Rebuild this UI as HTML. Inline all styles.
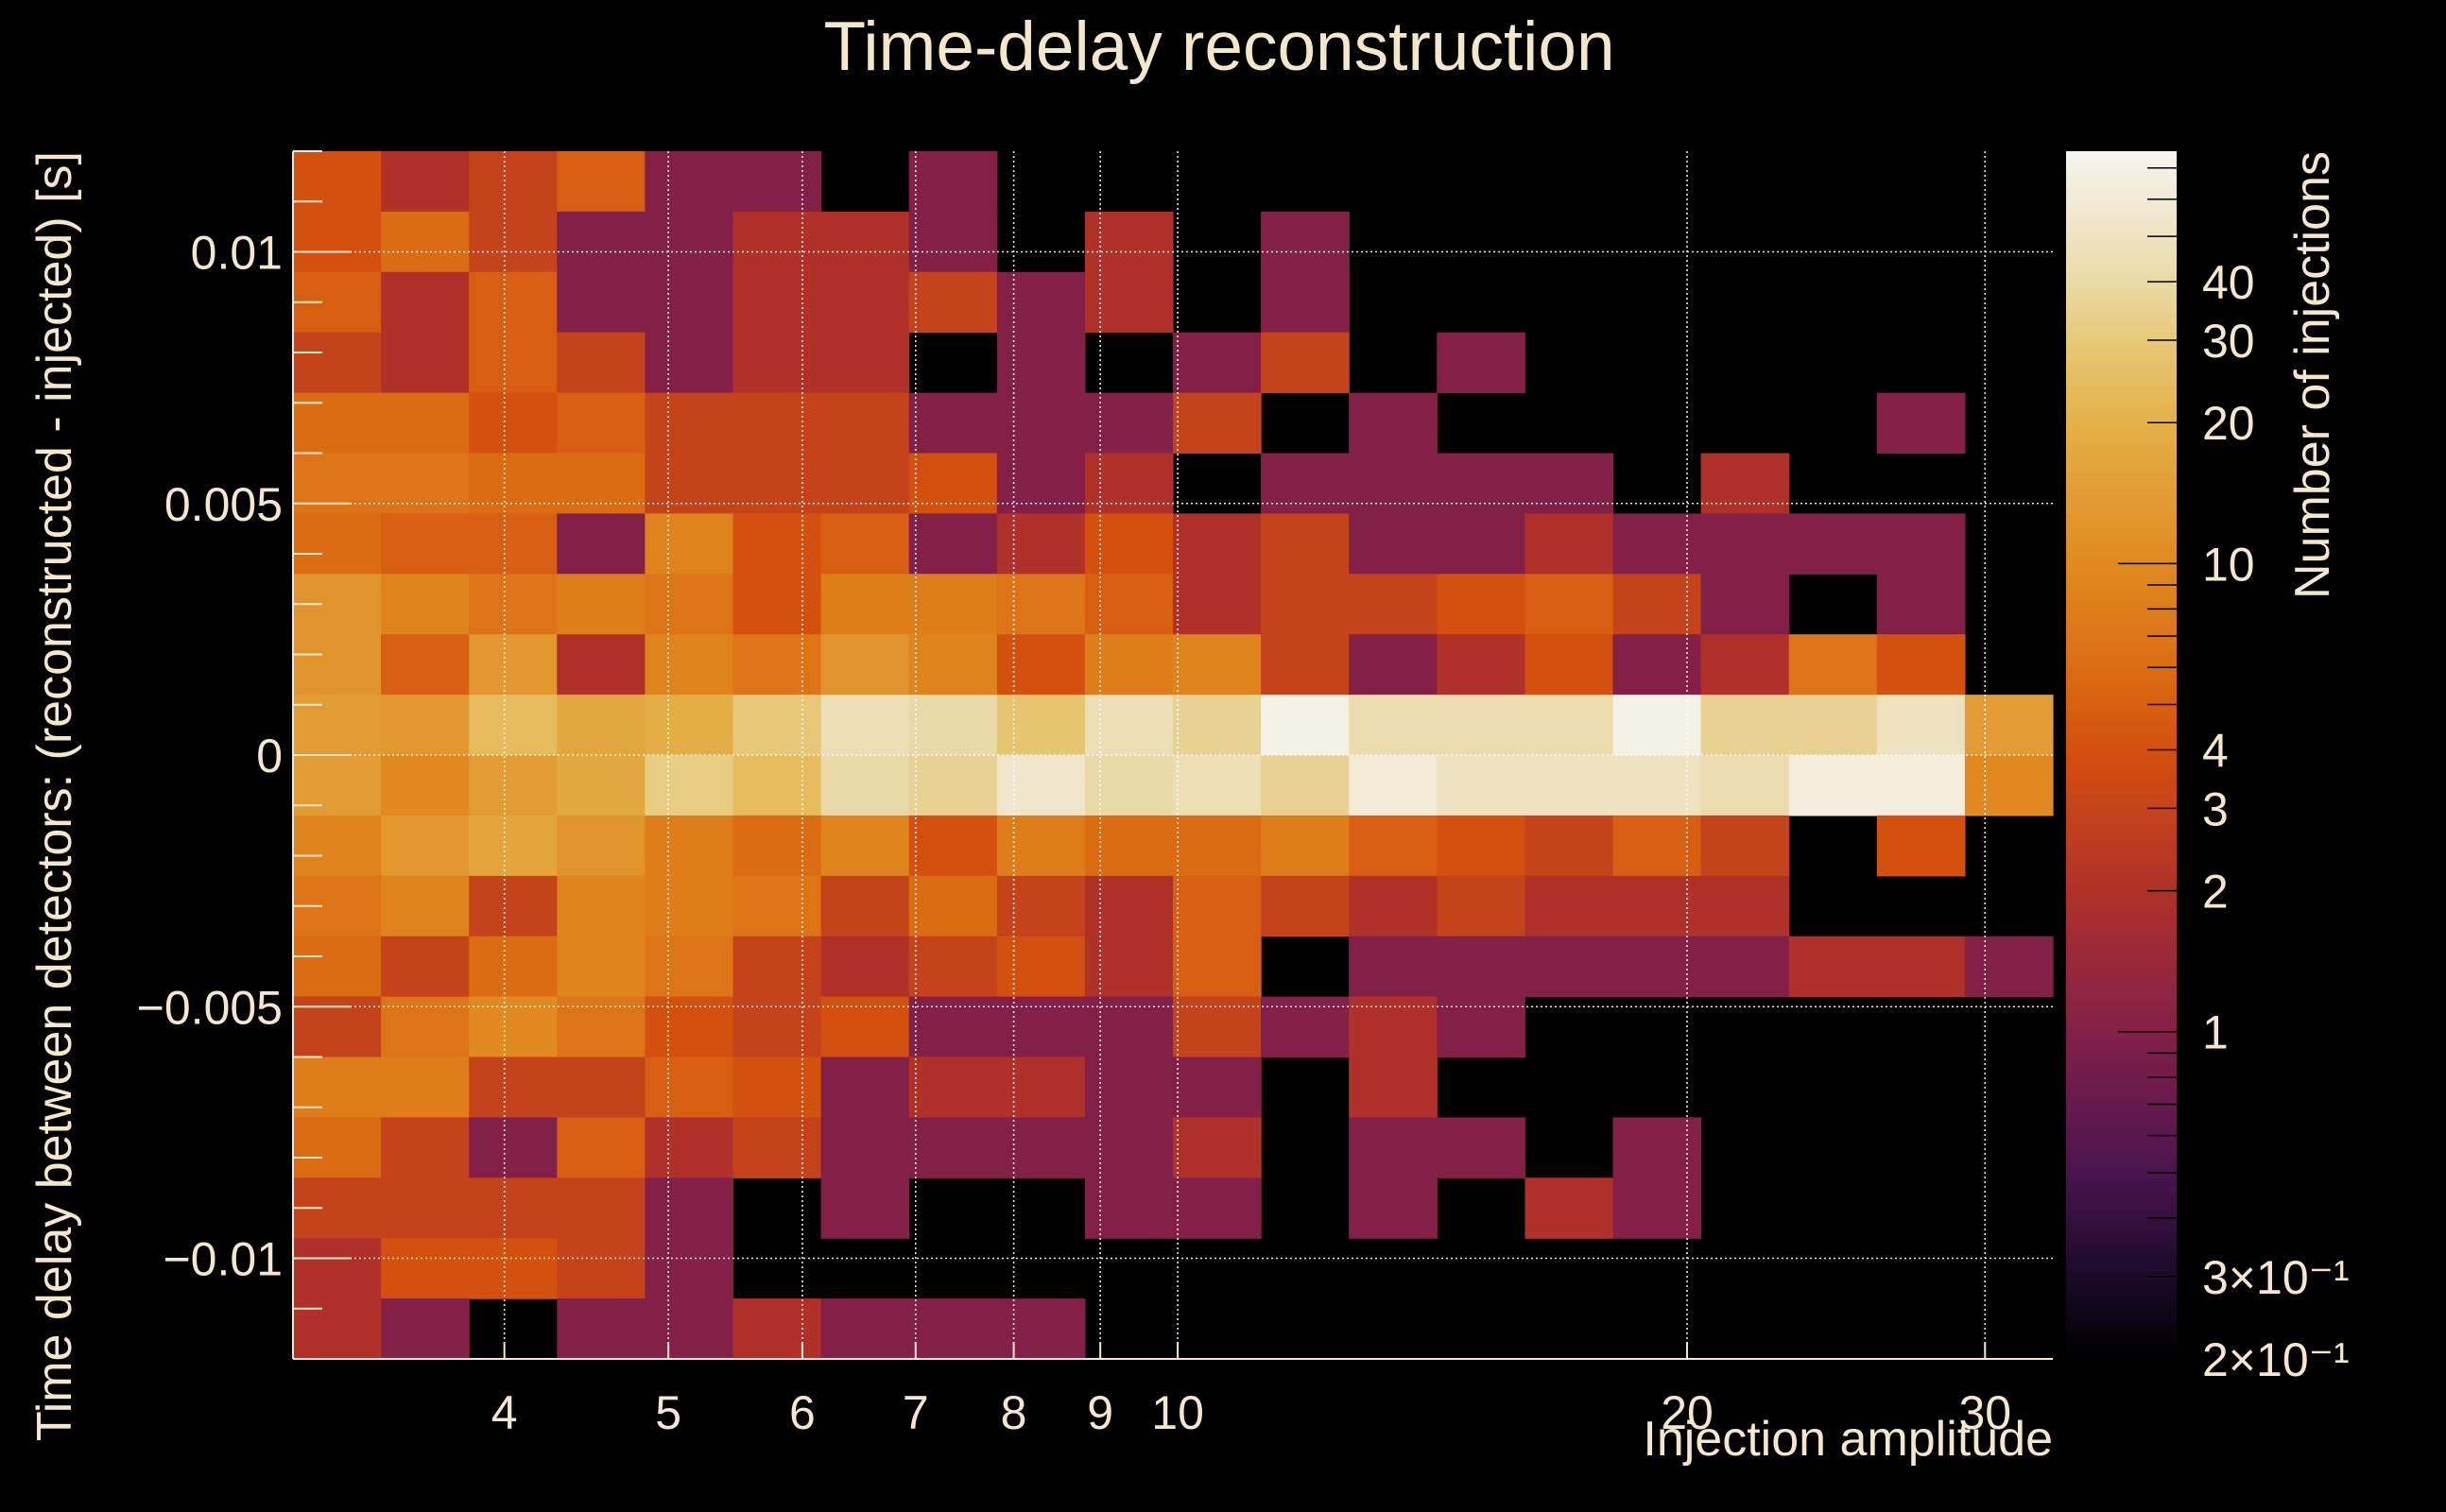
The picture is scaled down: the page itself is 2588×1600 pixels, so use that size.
<!DOCTYPE html>
<html><head><meta charset="utf-8"><style>
html,body{margin:0;padding:0;background:#000;}
svg{display:block;}
text{fill:#f3e8cc;font-family:"Liberation Sans",sans-serif;}
.n{font-family:"Liberation Sans Narrow","Liberation Sans",sans-serif;}
</style></head><body>
<svg id="c" width="2588" height="1600" viewBox="0 0 2588 1600">
<rect x="0" y="0" width="2588" height="1600" fill="#000"/>
<text x="1290" y="74" font-size="73" text-anchor="middle">Time-delay reconstruction</text>
<g id="cells"></g>
<g id="grid"></g>
<g id="axes"></g>
<g id="cbar"></g>
<text class="n" x="2172" y="1540" font-size="52" text-anchor="end">Injection amplitude</text>
<text class="n" transform="translate(75,160) rotate(-90)" font-size="52" text-anchor="end">Time delay between detectors: (reconstructed - injected) [s]</text>
<text class="n" transform="translate(2464,160) rotate(-90)" font-size="52" text-anchor="end">Number of injections</text>
</svg>
<script>
// binning
const xMin = 3, xMax = 32.9, nX = 20;
const yMin = -0.012, yMax = 0.012, nY = 20;
// counts: rows from top (y=0.012) to bottom; columns low to high amplitude
const row0  = [4,2,3,5,1,1,0,1,0,0, 0,0,0,0,0,0,0,0,0,0];
const row1  = [4,6,3,1,1,2,2,1,0,2, 0,1,0,0,0,0,0,0,0,0];
const row2  = [5,2,5,1,1,2,2,3,1,2, 0,1,0,0,0,0,0,0,0,0];
const row3  = [3,2,5,3,1,2,2,0,1,0, 1,3,0,1,0,0,0,0,0,0];
const row4  = [6,6,4,5,3,3,3,1,1,1, 3,0,1,0,0,0,0,0,1,0];
const row5  = [7,7,6,6,3,3,3,4,1,2, 0,1,1,1,1,0,2,0,0,0];
const row6  = [6,5,5,1,9,4,5,1,2,4, 2,3,1,1,2,1,1,1,1,0];
const row7  = [12,9,7,8,7,4,8,8,7,5, 2,3,3,4,5,3,1,0,1,0];
const row8  = [12,5,13,2,9,7,12,9,4,8, 9,3,1,2,4,1,2,7,4,0];
const row9  = [14,13,24,17,19,30,45,40,28,45, 35,70,42,42,42,70,35,35,50,14];
const row10 = [14,10,14,17,32,24,40,35,55,40, 45,35,60,50,50,50,42,65,65,10];
const row11 = [9,13,16,12,8,6,9,4,8,6, 6,8,5,4,3,5,3,0,4,0];
const row12 = [7,9,3,9,8,7,3,6,3,2, 5,3,2,3,2,2,2,0,0,0];
const row13 = [6,3,6,9,7,3,2,3,4,2, 5,0,1,1,1,1,1,2,2,1];
const row14 = [3,7,10,7,4,3,4,1,1,1, 3,1,2,1,0,0,0,0,0,0];
const row15 = [8,8,3,3,5,4,1,2,2,1, 1,0,2,0,0,0,0,0,0,0];
const row16 = [6,3,1,5,2,3,1,1,1,1, 2,0,1,1,0,1,0,0,0,0];
const row17 = [3,3,3,3,1,0,1,0,0,1, 1,0,1,0,2,1,0,0,0,0];
const row18 = [2,4,4,3,1,0,0,0,0,0, 0,0,0,0,0,0,0,0,0,0];
const row19 = [2,1,0,1,1,2,1,1,1,0, 0,0,0,0,0,0,0,0,0,0];
const counts = [row0,row1,row2,row3,row4,row5,row6,row7,row8,row9,row10,row11,row12,row13,row14,row15,row16,row17,row18,row19];
const xTicks = [4,5,6,7,8,9,10,20,30];
const xTickLabels = ["4","5","6","7","8","9","10","20","30"];
const yTicks = [-0.01,-0.005,0,0.005,0.01];
const yTickLabels = ["\u22120.01","\u22120.005","0","0.005","0.01"];
const zMin = 0.2, zMax = 76;
const zTicks = [40,30,20,10,4,3,2,1,0.3,0.2];
const zTickLabels = ["40","30","20","10","4","3","2","1","3\u00d710\u207b\u00b9","2\u00d710\u207b\u00b9"];

const PX0=310, PX1=2172, PY0=160, PY1=1438;
const CBX0=2186, CBX1=2303;
const NS="http://www.w3.org/2000/svg";
function xs(v){return PX0+(Math.log10(v)-Math.log10(xMin))/(Math.log10(xMax)-Math.log10(xMin))*(PX1-PX0);}
function ys(v){return PY1-(v-yMin)/(yMax-yMin)*(PY1-PY0);}
function zs(v){return PY1-(Math.log10(v)-Math.log10(zMin))/(Math.log10(zMax)-Math.log10(zMin))*(PY1-PY0);}
const stops=[[0.2,[0,0,0]],[0.3,[26,10,40]],[0.5,[74,20,80]],[1,[131,32,72]],[2,[176,48,42]],[3,[197,67,26]],[4,[212,80,15]],[6,[220,108,18]],[10,[224,138,32]],[20,[228,176,72]],[30,[230,200,120]],[40,[234,217,168]],[76,[246,244,240]]];
function col(z){
  const l=Math.log10(Math.max(zMin,Math.min(zMax,z)));
  for(let i=0;i<stops.length-1;i++){
    const a=Math.log10(stops[i][0]),b=Math.log10(stops[i+1][0]);
    if(l<=b){const t=(l-a)/(b-a);const c=stops[i][1].map((v,k)=>Math.round(v+(stops[i+1][1][k]-v)*t));return `rgb(${c})`;}
  }
  return 'rgb(246,244,240)';
}
function mk(tag,attrs,parent){const e=document.createElementNS(NS,tag);for(const k in attrs)e.setAttribute(k,attrs[k]);parent.appendChild(e);return e;}
const gc=document.getElementById('cells'),gg=document.getElementById('grid'),ga=document.getElementById('axes'),gb=document.getElementById('cbar');
const lx0=Math.log10(xMin),lx1=Math.log10(xMax);
for(let r=0;r<nY;r++){
  const yTop=yMax-r*(yMax-yMin)/nY, yBot=yTop-(yMax-yMin)/nY;
  for(let c=0;c<nX;c++){
    const v=counts[r][c]; if(!v)continue;
    const xa=Math.pow(10,lx0+c*(lx1-lx0)/nX), xb=Math.pow(10,lx0+(c+1)*(lx1-lx0)/nX);
    const x1=xs(xa),x2=xs(xb),y1=ys(yTop),y2=ys(yBot);
    const e=mk('rect',{x:x1.toFixed(2),y:y1.toFixed(2),width:(x2-x1+0.6).toFixed(2),height:(y2-y1+0.6).toFixed(2),fill:col(v)},gc);
    
    
  }
}
// grid
xTicks.forEach(t=>{const e=mk('line',{x1:xs(t),x2:xs(t),y1:PY0,y2:PY1,stroke:'#fff','stroke-width':1.6,'stroke-dasharray':'2 3',opacity:0.9},gg);

});
yTicks.forEach(t=>{const e=mk('line',{x1:PX0,x2:PX1,y1:ys(t),y2:ys(t),stroke:'#fff','stroke-width':1.6,'stroke-dasharray':'2 3',opacity:0.9},gg);

});
// axes
let e=mk('line',{x1:PX0,x2:PX1,y1:PY1,y2:PY1,stroke:'#f3e8cc','stroke-width':2},ga);


e=mk('line',{x1:PX0,x2:PX0,y1:PY0,y2:PY1,stroke:'#f3e8cc','stroke-width':2},ga);


for(let k=-12;k<=12;k++){const v=k*0.001;const major=(k%5===0);
  e=mk('line',{x1:PX0,x2:PX0+(major?62:31),y1:ys(v),y2:ys(v),stroke:'#f3e8cc','stroke-width':2},ga);
  
  }
xTicks.forEach((t,i)=>{e=mk('line',{x1:xs(t),x2:xs(t),y1:PY1,y2:PY1-18,stroke:'#f3e8cc','stroke-width':2},ga);
  
  
  const tx=mk('text',{x:xs(t),y:1512,'font-size':50,'text-anchor':'middle',class:'n'},ga);tx.textContent=xTickLabels[i];
  
  });
yTicks.forEach((t,i)=>{const tx=mk('text',{x:299,y:ys(t)+18,'font-size':50,'text-anchor':'end',class:'n'},ga);tx.textContent=yTickLabels[i];
  
  });
// color bar
const N=300;
for(let i=0;i<N;i++){const l0=Math.log10(zMin)+i*(Math.log10(zMax)-Math.log10(zMin))/N, l1=Math.log10(zMin)+(i+1)*(Math.log10(zMax)-Math.log10(zMin))/N;
  const y1=zs(Math.pow(10,l1)),y2=zs(Math.pow(10,l0));
  e=mk('rect',{x:CBX0,y:y1.toFixed(2),width:CBX1-CBX0,height:(y2-y1+0.8).toFixed(2),fill:col(Math.pow(10,(l0+l1)/2))},gb);
  
  }
const minor=[0.2,0.3,0.4,0.5,0.6,0.7,0.8,0.9,1,2,3,4,5,6,7,8,9,10,20,30,40,50,60,70];
minor.forEach(t=>{const major=(t===1||t===10);
  e=mk('line',{x1:CBX1-(major?62:31),x2:CBX1,y1:zs(t),y2:zs(t),stroke:'#000','stroke-width':1.5},gb);
  
  });
zTicks.forEach((t,i)=>{const tx=mk('text',{x:2330,y:zs(t)+18,'font-size':50},gb);tx.textContent=zTickLabels[i];
  
  });
</script>
</body></html>
